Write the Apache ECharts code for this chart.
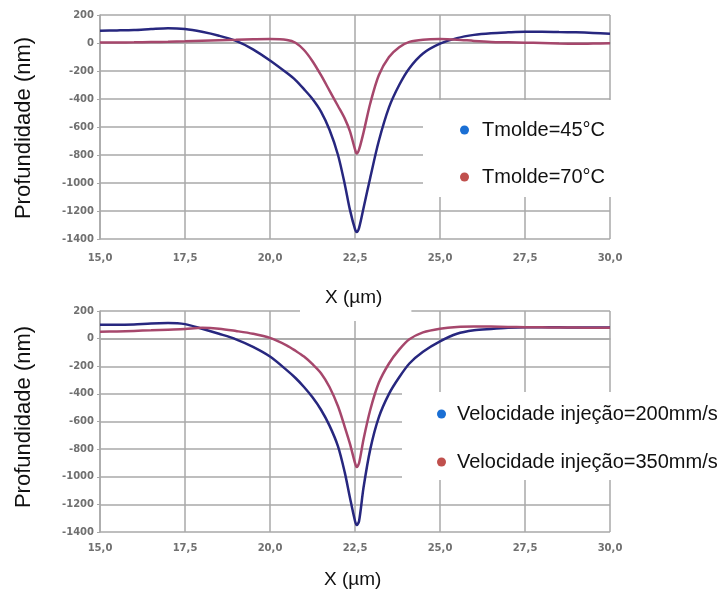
<!DOCTYPE html>
<html>
<head>
<meta charset="utf-8">
<script src="https://cdn.jsdelivr.net/npm/echarts@6/dist/echarts.min.js"></script>
<style>
  html, body { margin: 0; padding: 0; background: #fff; }
  #chart { width: 726px; height: 596px; }
</style>
</head>
<body>
<div id="chart"></div>
<script>
// posições X (µm) comuns às quatro curvas
const xPoints = [15, 15.5, 16, 16.5, 17, 17.5, 18, 18.5, 19, 19.5, 20, 20.5, 20.75, 21, 21.25, 21.5, 21.75, 22, 22.2, 22.35, 22.5, 22.55, 22.62, 22.75, 22.95, 23.2, 23.5, 23.8, 24.1, 24.5, 25, 25.5, 26, 26.5, 27, 27.5, 28, 28.5, 29, 29.5, 30];

// gráfico de cima: temperatura do molde
const tmolde45 = [88, 90, 93, 100, 106, 100, 80, 52, 15, -45, -125, -215, -265, -330, -400, -490, -620, -800, -1010, -1190, -1330, -1350, -1320, -1180, -960, -700, -460, -300, -180, -75, -5, 35, 58, 70, 76, 80, 80, 78, 76, 72, 66];
const tmolde70 = [3, 4, 5, 7, 9, 12, 16, 20, 23, 26, 28, 22, 2, -50, -130, -230, -340, -450, -540, -630, -760, -790, -760, -640, -430, -230, -100, -30, 8, 24, 28, 24, 15, 8, 5, 2, 0, -4, -6, -4, -2];

// gráfico de baixo: velocidade de injeção
const vel200 = [100, 100, 103, 110, 113, 105, 72, 35, -5, -60, -130, -230, -285, -350, -425, -515, -630, -780, -970, -1150, -1320, -1350, -1320, -1080, -800, -570, -400, -280, -180, -95, -20, 35, 60, 70, 78, 82, 82, 82, 80, 80, 80];
const vel350 = [50, 52, 56, 60, 65, 70, 78, 72, 55, 35, 5, -50, -88, -130, -185, -250, -350, -490, -640, -760, -900, -930, -900, -730, -515, -320, -180, -80, -5, 45, 72, 85, 88, 87, 85, 83, 82, 80, 80, 78, 78];

const seriesNames = ['Tmolde=45°C', 'Tmolde=70°C', 'Velocidade injeção=200mm/s', 'Velocidade injeção=350mm/s'];
const xRange = [15, 30, 2.5];
const yRange = [-1400, 200, 200];

const FONT = 'Liberation Sans';
const lineBlue = '#27277f';
const lineRed = '#a6476c';
const dotBlue = '#1a6fd4';
const dotRed = '#c0504d';

const pairs = ys => xPoints.map((x, i) => [x, ys[i]]);

const tickLabel = { fontSize: 10, fontWeight: 'bold', color: '#707070', fontFamily: 'DejaVu Sans' };
const gridLine = { lineStyle: { color: '#a8a8a8', width: 1.5 } };

function xAxisFor(idx, margin) {
  return {
    type: 'value', gridIndex: idx,
    min: xRange[0], max: xRange[1], interval: xRange[2],
    axisLine: { lineStyle: { color: '#a8a8a8', width: 1.5 } },
    axisTick: { show: false },
    splitLine: gridLine,
    axisLabel: Object.assign({ margin: margin, formatter: v => v.toFixed(1).replace('.', ',') }, tickLabel)
  };
}
function yAxisFor(idx) {
  return {
    type: 'value', gridIndex: idx,
    min: yRange[0], max: yRange[1], interval: yRange[2],
    axisLine: { show: true, lineStyle: { color: '#a8a8a8', width: 1.5 } },
    axisTick: { show: true, length: 3, lineStyle: { color: '#a8a8a8' } },
    splitLine: gridLine,
    axisLabel: Object.assign({ margin: 6, formatter: v => String(v) }, tickLabel)
  };
}
function lineSeries(name, idx, ys, color) {
  return {
    name: name, type: 'line', xAxisIndex: idx, yAxisIndex: idx,
    data: pairs(ys), showSymbol: false, smooth: 0.3,
    lineStyle: { color: color, width: 2.5 }, itemStyle: { color: color }
  };
}
function legendFor(names, left, top, padding, gap, textPad) {
  return {
    orient: 'vertical', left: left, top: top, padding: padding,
    backgroundColor: '#fff', itemGap: gap, icon: 'circle',
    itemWidth: 9, itemHeight: 9, selectedMode: false,
    textStyle: { fontSize: 20, lineHeight: 20, color: '#111', fontFamily: FONT, padding: [0, 0, 0, textPad] },
    data: [
      { name: names[0], itemStyle: { color: dotBlue } },
      { name: names[1], itemStyle: { color: dotRed } }
    ]
  };
}

const chart = echarts.init(document.getElementById('chart'));
chart.setOption({
  backgroundColor: '#fff',
  animation: false,
  grid: [
    { left: 100, top: 15, width: 510, height: 224 },
    { left: 100, top: 311, width: 510, height: 221 }
  ],
  xAxis: [xAxisFor(0, 14), xAxisFor(1, 11)],
  yAxis: [yAxisFor(0), yAxisFor(1)],
  title: [
    { text: 'X (µm)', left: 300, top: 278, padding: [10, 29, 14, 25], backgroundColor: '#fff',
      textStyle: { fontSize: 19, fontWeight: 'normal', color: '#111', fontFamily: FONT } },
    { text: 'X (µm)', left: 324, top: 570, padding: 0,
      textStyle: { fontSize: 19, fontWeight: 'normal', color: '#111', fontFamily: FONT } }
  ],
  legend: [
    legendFor(seriesNames.slice(0, 2), 423, 100, [20, 7, 10, 37], 27, 8),
    legendFor(seriesNames.slice(2, 4), 402, 392, [12, 10, 8, 35], 28, 6)
  ],
  graphic: [
    { type: 'text', x: 24, y: 128, rotation: Math.PI / 2,
      style: { text: 'Profundidade (nm)', fontSize: 22, fontFamily: FONT, fill: '#111', align: 'center', verticalAlign: 'middle' } },
    { type: 'text', x: 24, y: 417, rotation: Math.PI / 2,
      style: { text: 'Profundidade (nm)', fontSize: 22, fontFamily: FONT, fill: '#111', align: 'center', verticalAlign: 'middle' } }
  ],
  series: [
    lineSeries(seriesNames[0], 0, tmolde45, lineBlue),
    lineSeries(seriesNames[1], 0, tmolde70, lineRed),
    lineSeries(seriesNames[2], 1, vel200, lineBlue),
    lineSeries(seriesNames[3], 1, vel350, lineRed)
  ]
});
</script>
</body>
</html>
